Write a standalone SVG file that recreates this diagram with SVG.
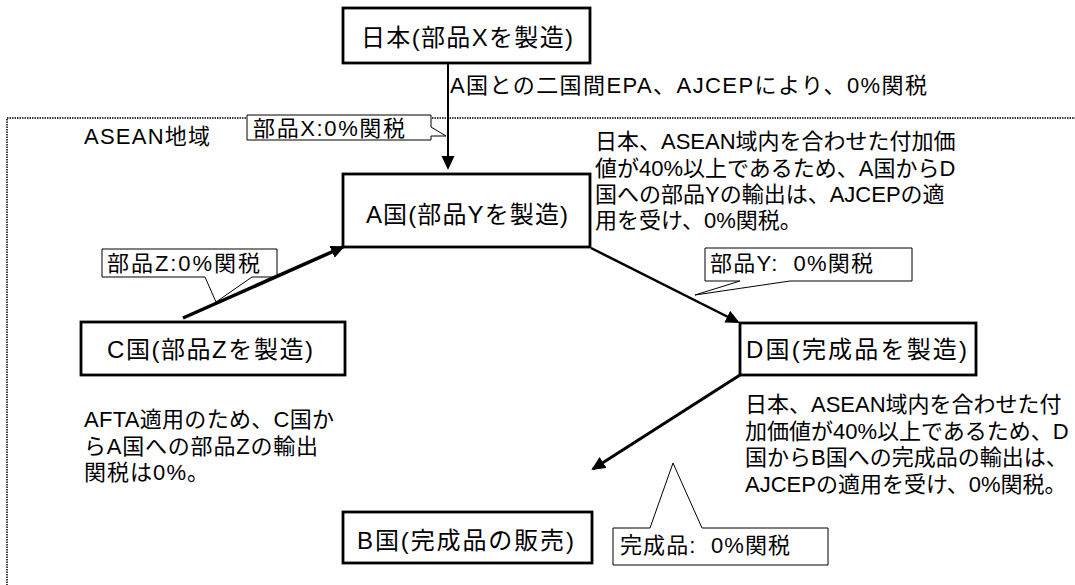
<svg xmlns="http://www.w3.org/2000/svg" width="1075" height="585" viewBox="0 0 1075 585">
<style>
text{font-family:"Liberation Sans","Noto Sans CJK JP",sans-serif;font-size:22px;fill:#000}
.big{font-size:24px}
.node{fill:#fff;stroke:#000;stroke-width:2.8}
.call{fill:#fff;stroke:#000;stroke-width:1}
.conn{stroke:#000;fill:none;marker-end:url(#ah)}
</style>
<defs>
<marker id="ah" markerUnits="userSpaceOnUse" markerWidth="15" markerHeight="14" refX="12" refY="6.5" orient="auto">
<path d="M0,0 L14,6.5 L0,13 Z" fill="#000"/>
</marker>
</defs>
<rect width="1075" height="585" fill="#fff"/>
<g id="region">
<rect x="7" y="118" width="1090" height="490" fill="none" stroke="#000" stroke-width="1.5" stroke-dasharray="1.5 1"/>
<text x="84" y="144" textLength="126">ASEAN地域</text>
</g>
<g id="callout-x">
<path class="call" d="M247,115 H431 V127 L446,136 H431 V140 H247 Z"/>
<text x="253" y="136" textLength="152">部品X:0%関税</text>
</g>
<g id="callout-z">
<path class="call" d="M102,249 H277 V277 H252 L216,302 L205,277 H102 Z"/>
<text x="107" y="271" textLength="153">部品Z:0%関税</text>
</g>
<g id="callout-y">
<path class="call" d="M705,248 H912 V281 H790 L695,295 L740,281 H705 Z"/>
<text x="710" y="271" textLength="163">部品Y:&#160; 0%関税</text>
</g>
<g id="callout-final">
<path class="call" d="M613,528 H650 L673,463 L702,528 H828 V565 H613 Z"/>
<text x="620" y="553" textLength="170">完成品:&#160; 0%関税</text>
</g>
<g id="connectors">
<line class="conn" x1="448" y1="63" x2="448" y2="168" stroke-width="2"/>
<line class="conn" x1="183" y1="318" x2="343" y2="247" stroke-width="3.5"/>
<line class="conn" x1="591" y1="248" x2="738" y2="322" stroke-width="2.5"/>
<line class="conn" x1="740" y1="375" x2="593" y2="469" stroke-width="3"/>
</g>
<g id="japan">
<rect class="node" x="343" y="8" width="247" height="55"/>
<text class="big" x="361" y="46" textLength="212">日本(部品Xを製造)</text>
</g>
<g id="country-a">
<rect class="node" x="343" y="174" width="247" height="73"/>
<text class="big" x="366" y="223" textLength="202">A国(部品Yを製造)</text>
</g>
<g id="country-c">
<rect class="node" x="81" y="322" width="264" height="53"/>
<text class="big" x="107" y="358" textLength="206">C国(部品Zを製造)</text>
</g>
<g id="country-d">
<rect class="node" x="740" y="323" width="236" height="52"/>
<text class="big" x="746" y="358" textLength="221">D国(完成品を製造)</text>
</g>
<g id="country-b">
<rect class="node" x="343" y="512" width="249" height="51"/>
<text class="big" x="357" y="549" textLength="217">B国(完成品の販売)</text>
</g>
<g id="notes">
<text x="450" y="93" font-size="23.5" textLength="477">A国との二国間EPA、AJCEPにより、0%関税</text>
<text x="595" y="149">日本、ASEAN域内を合わせた付加価</text>
<text x="595" y="176">値が40%以上であるため、A国からD</text>
<text x="595" y="202">国への部品Yの輸出は、AJCEPの適</text>
<text x="595" y="228">用を受け、0%関税。</text>
<text x="84" y="427" textLength="250">AFTA適用のため、C国か</text>
<text x="84" y="454" textLength="234">らA国への部品Zの輸出</text>
<text x="84" y="480" textLength="125">関税は0%。</text>
<text x="745" y="412">日本、ASEAN域内を合わせた付</text>
<text x="745" y="439">加価値が40%以上であるため、D</text>
<text x="745" y="465">国からB国への完成品の輸出は、</text>
<text x="745" y="492">AJCEPの適用を受け、0%関税。</text>
</g>
</svg>
